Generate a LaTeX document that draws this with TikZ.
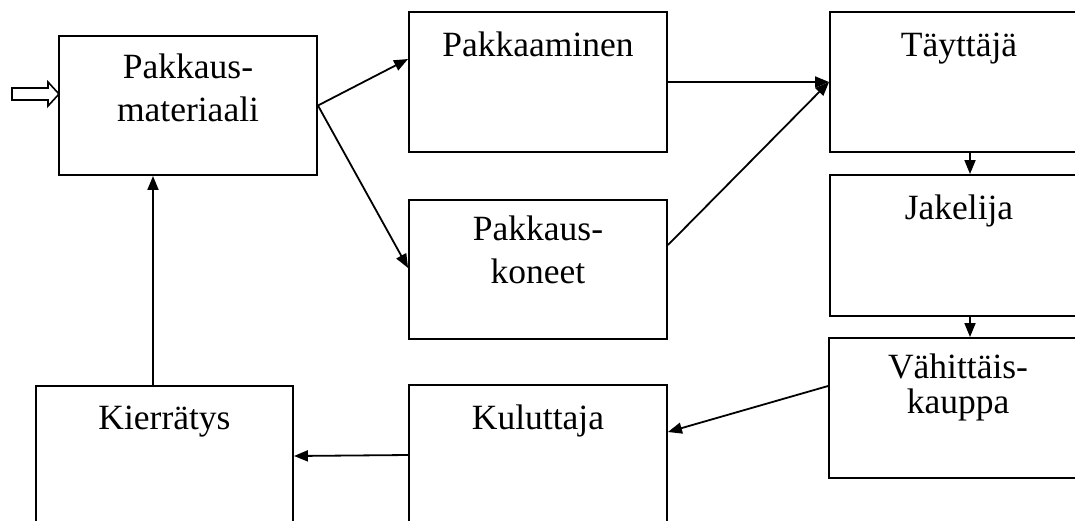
\documentclass[tikz,border=0pt]{standalone}
\usepackage{fontspec}
\setmainfont{Liberation Serif}
\usetikzlibrary{arrows.meta}
\begin{document}
\begin{tikzpicture}[x=1pt,y=-1pt,
  box/.style={draw,line width=1.9pt,inner sep=0pt,minimum width=258pt,minimum height=140pt},
  lbl/.style={anchor=base,font=\fontsize{35.5}{42}\selectfont,inner sep=0pt},
  conn/.style={line width=1.8pt,-{Triangle[length=14pt,width=11pt]}}]
\useasboundingbox (0,0) rectangle (1075,520);
\clip (0,0) rectangle (1075,520);
% boxes
\node[box,minimum height=139pt] (mat) at (188,105.5) {};
\node[box] (pak) at (538,82) {};
\node[box] (tay) at (959,82) {};
\node[box,minimum height=139pt] (kon) at (538,269.5) {};
\node[box,minimum height=141pt] (jak) at (959,245.5) {};
\node[box] (vah) at (958,408) {};
\node[box] (kul) at (538,455) {};
\node[box,minimum width=257pt] (kie) at (164.5,456) {};
% labels
\node[lbl] (matA) at ([yshift=-43pt]mat.north) {Pakkaus-};
\node[lbl] (matB) at ([yshift=-86pt]mat.north) {materiaali};
\node[lbl] (pakA) at ([yshift=-45pt]pak.north) {Pakkaaminen};
\node[lbl] (tayA) at ([yshift=-45pt]tay.north) {Täyttäjä};
\node[lbl] (konA) at ([yshift=-41pt]kon.north) {Pakkaus-};
\node[lbl] (konB) at ([yshift=-84pt]kon.north) {koneet};
\node[lbl] (jakA) at ([yshift=-45pt]jak.north) {Jakelija};
\node[lbl] (vahA) at ([yshift=-41pt]vah.north) {Vähittäis-};
\node[lbl] (vahB) at ([yshift=-76pt]vah.north) {kauppa};
\node[lbl] (kulA) at ([yshift=-45pt]kul.north) {Kuluttaja};
\node[lbl] (kieA) at ([yshift=-44pt]kie.north) {Kierrätys};
% input hollow arrow
\draw[line width=1.6pt,line join=miter] (12,88) -- (48,88) -- (48,82) -- (59,94) -- (48,106) -- (48,100) -- (12,100) -- cycle;
% connectors
\draw[conn] (mat.east) -- ([yshift=23pt]pak.west);
\draw[conn] (mat.east) -- ([yshift=1.5pt]kon.west);
\draw[conn] (pak.east) -- (tay.west);
\draw[conn] ([yshift=24.5pt]kon.east) -- (tay.west);
\draw[conn] ([xshift=11pt]tay.south) -- ([xshift=11pt]jak.south |- jak.north);
\draw[conn] ([xshift=11pt]jak.south) -- ([xshift=12pt]vah.north);
\draw[conn] ([yshift=22pt]vah.west) -- ([yshift=23pt]kul.east);
\draw[conn] (kul.west) -- (kie.east);
\draw[conn] ([xshift=-11.5pt]kie.north) -- ([xshift=-35pt]mat.south);
\end{tikzpicture}
\end{document}
